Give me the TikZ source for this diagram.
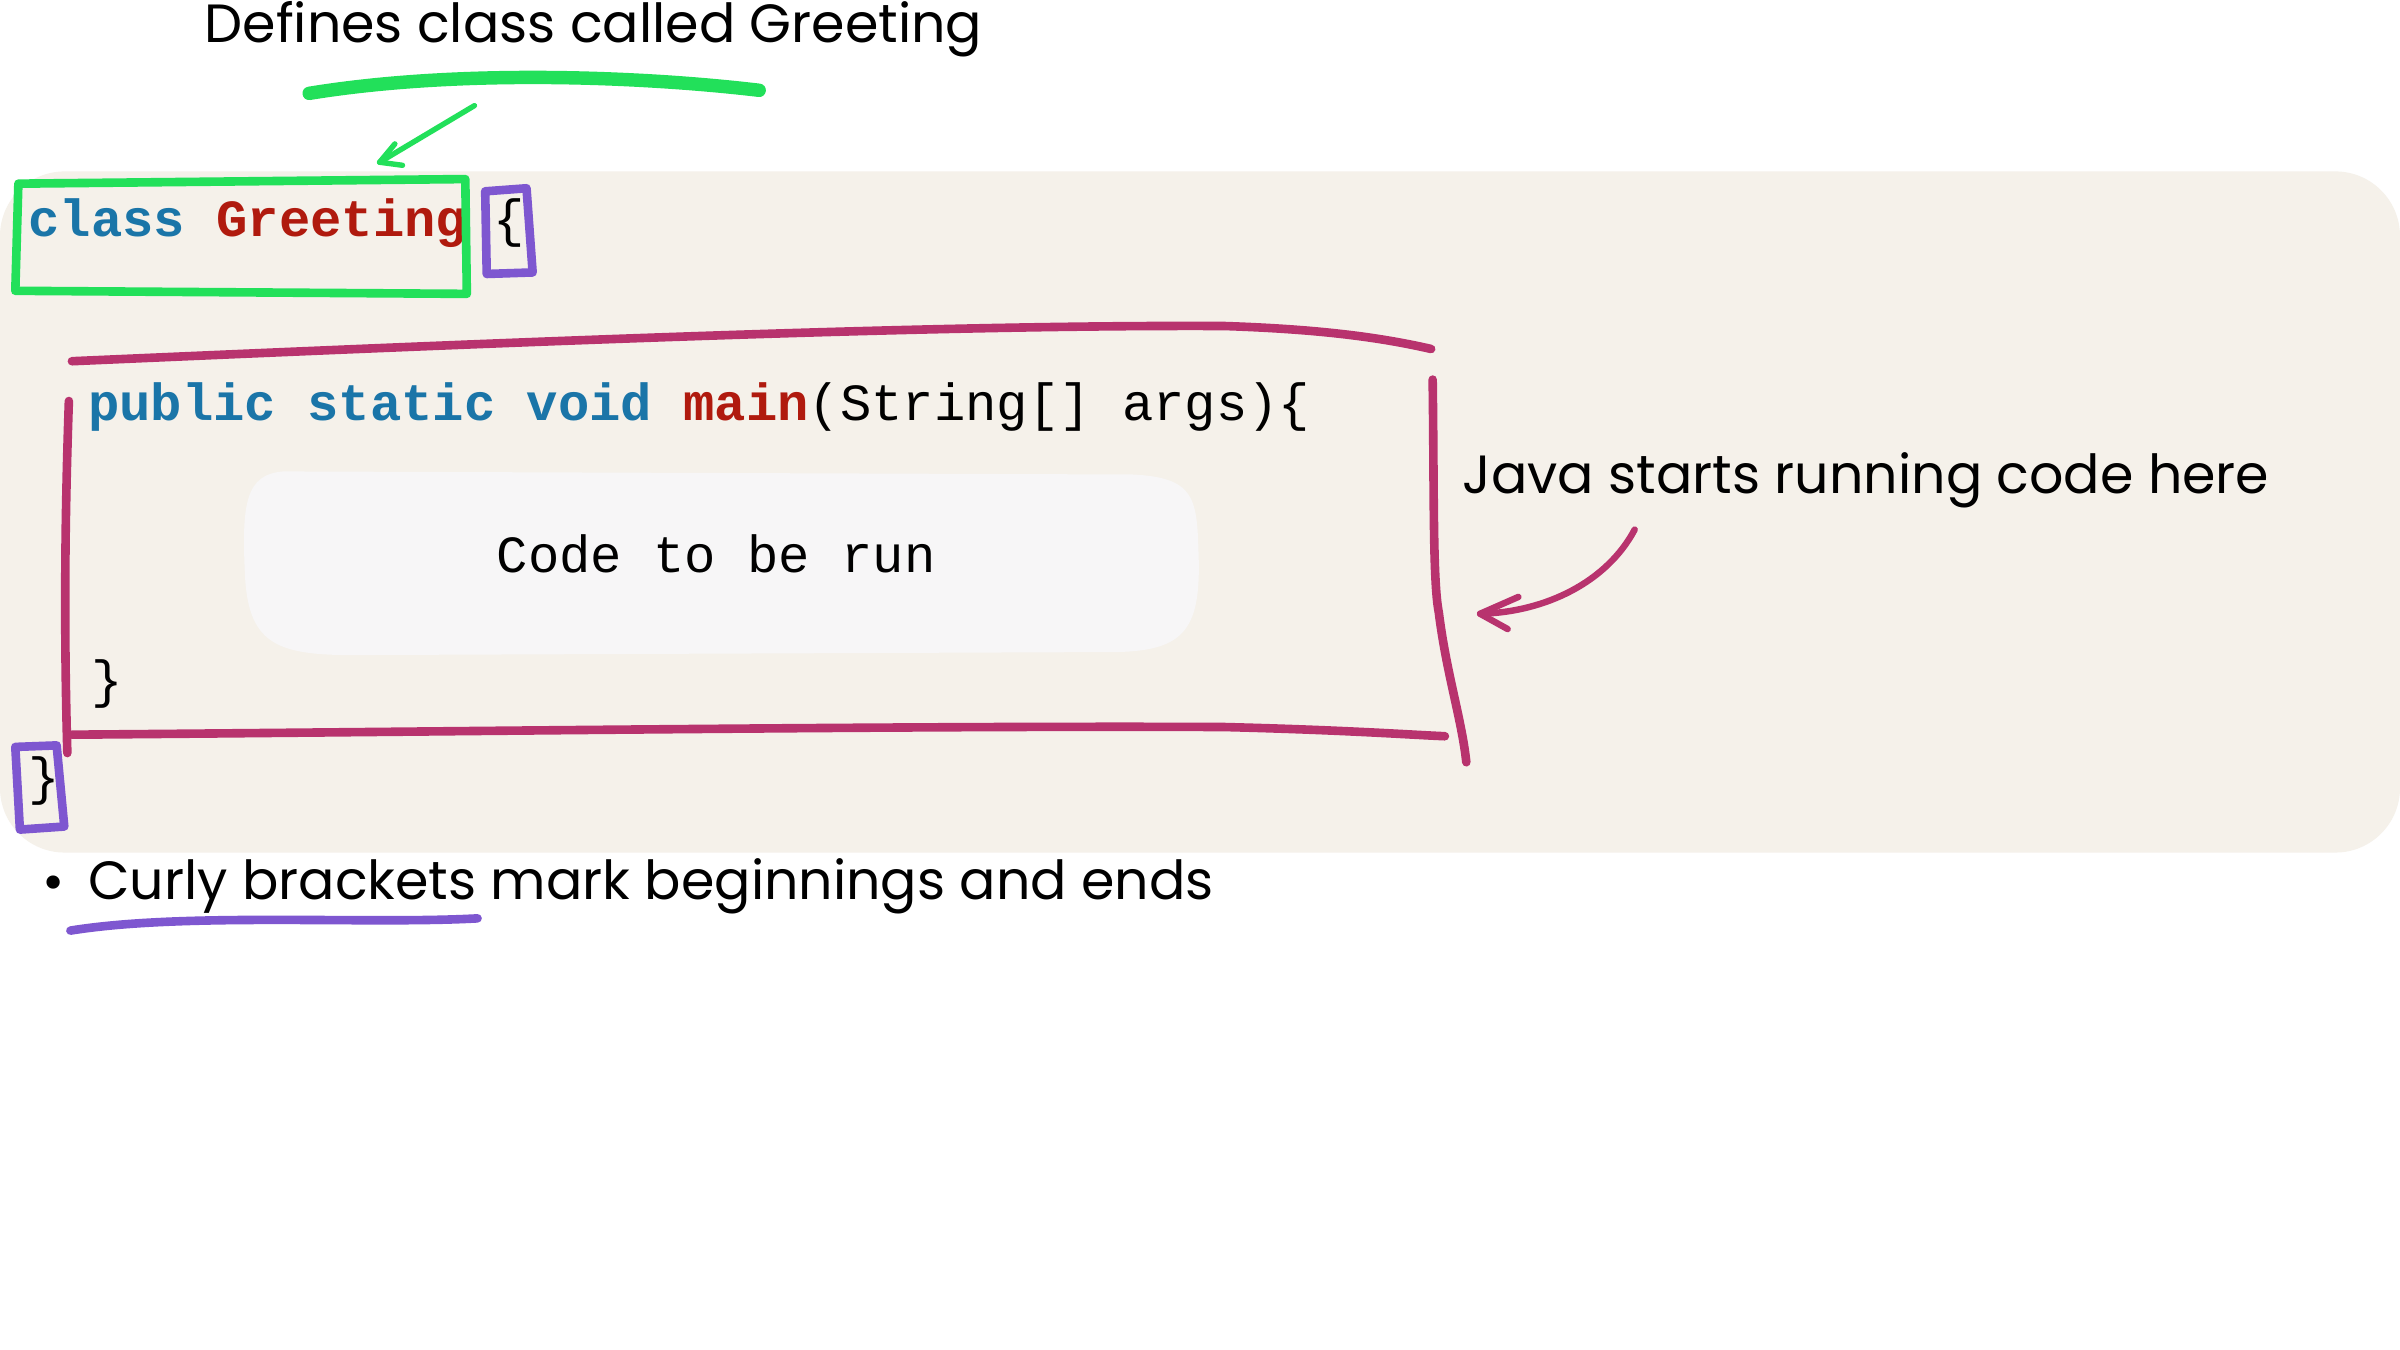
\documentclass[tikz,border=0pt]{standalone}
\usepackage{fontspec}
\setmainfont{Poppins}
\newfontfamily\codef{Liberation Mono}
\definecolor{bg}{HTML}{F5F1EA}
\definecolor{kw}{HTML}{1A75A8}
\definecolor{nm}{HTML}{B01A0E}
\definecolor{grn}{HTML}{22E05A}
\definecolor{mag}{HTML}{B8336E}
\definecolor{pur}{HTML}{7E57D0}
\definecolor{codebg}{HTML}{F7F6F7}
\begin{document}
\begin{tikzpicture}[x=0.01cm,y=-0.01cm,
  ann/.style={font=\fontsize{10}{12}\selectfont, anchor=west, inner sep=0},
  code/.style={font=\codef\fontsize{9.7}{12}\selectfont, anchor=west, inner sep=0},
  hand/.style={line width=1.6pt, line cap=round, line join=round}]
\useasboundingbox (0,0) rectangle (1568,882);
\fill[white] (0,0) rectangle (1568,882);
\fill[bg, rounded corners=12] (0,112) rectangle (1568,557);
% code
\node[code] (cls) at (18,146) {\bfseries\textcolor{kw}{class} \textcolor{nm}{Greeting}};
\node[code] (ob) at (322,146) {\{};
\node[code] (main) at (57,266) {\textcolor{kw}{\bfseries public static void} \textcolor{nm}{\bfseries main}(String[] args)\{};
\fill[codebg] (185,308) .. controls (160,310) and (158,330) .. (160,375) .. controls (162,420) and (180,428) .. (230,428) -- (730,426) .. controls (775,425) and (785,410) .. (783,360) .. controls (782,325) and (780,312) .. (740,310) -- cycle;
\node[code] (run) at (324,362) {Code to be run};
\node[code] (cb1) at (59,447) {\}};
\node[code] (cb2) at (18,510) {\}};
% annotations
\node[ann] (t1) at (133,19) {Defines class called Greeting};
\node[ann] (t2) at (955,314) {Java starts running code here};
\node[ann] (t3) at (57,579) {Curly brackets mark beginnings and ends};
\node[font=\fontsize{10}{12}\selectfont] (bul) at (35,580) {•};
% green
\draw[grn, hand, line width=2.5pt] (202,61) .. controls (300,45) and (420,50) .. (496,59);
\draw[grn, hand, line width=1pt] (310,69) -- (248,106);
\coordinate (ga) at (248,106);
\draw[grn, hand, line width=1pt] (ga) -- (258,94) (ga) -- (263,108);
\draw[grn, hand] (12,120) -- (304,117) -- (305,192) -- (10,190) -- cycle;
% purple
\draw[pur, hand] (317,125) -- (344,123) -- (348,178) -- (318,179) -- cycle;
\draw[pur, hand] (10,488) -- (37,487) -- (42,540) -- (13,542) -- cycle;
\draw[pur, hand] (46,608) .. controls (120,596) and (240,604) .. (312,600);
% magenta
\draw[mag, hand] (47,236) .. controls (300,225) and (600,212) .. (800,213) .. controls (860,215) and (900,220) .. (935,228);
\draw[mag, hand] (45,262) .. controls (42,350) and (42,420) .. (44,492);
\draw[mag, hand] (47,480) .. controls (300,478) and (600,474) .. (800,475) .. controls (880,477) and (920,480) .. (944,481);
\draw[mag, hand] (936,248) .. controls (937,320) and (936,380) .. (940,400) .. controls (945,440) and (955,470) .. (958,498);
\draw[mag, hand, line width=1.2pt] (1068,346) .. controls (1050,380) and (1010,400) .. (967,401);
\coordinate (ma) at (967,401);
\draw[mag, hand, line width=1.2pt] (ma) -- (992,390) (ma) -- (985,411);
\end{tikzpicture}
\end{document}
